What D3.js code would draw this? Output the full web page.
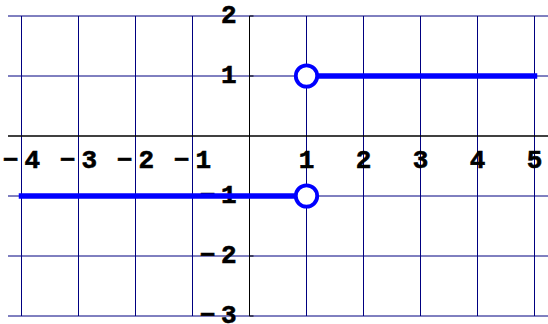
<!DOCTYPE html>
<html>
<head>
<meta charset="utf-8">
<script src="https://cdn.jsdelivr.net/npm/d3@7"></script>
<style>
  body { margin: 0; background: #fff; }
  text { font-family: "Liberation Mono", "Courier New", monospace; font-weight: bold; fill: #000; stroke: #000; stroke-width: 0.6px; }
</style>
</head>
<body>
<div id="container"></div>
<script>
const canvasWidth = 548;
const canvasHeight = 324;

// ticks
let xTicks = [-4, -3, -2, -1, 1, 2, 3, 4, 5];
let yTicks = [2, 1, -1, -2, -3];

// step function pieces
let segStart = [-4, 1];
let segEnd = [1, 5];
let segLevel = [-1, 1];

// open endpoints
let holeX = [1, 1];
let holeY = [1, -1];

let x = d3.scaleLinear().domain([-4, 5]).range([21.5, 534.5]);
let y = d3.scaleLinear().domain([2, -3]).range([16, 316]);

let viz = d3.select('#container')
  .append('svg')
  .attr('width', canvasWidth)
  .attr('height', canvasHeight);

//grid
viz.append('g').selectAll('line').data(yTicks).enter()
  .append('line')
  .attr('x1', 8).attr('x2', canvasWidth)
  .attr('y1', d => y(d)).attr('y2', d => y(d))
  .style('stroke', '#000080')
  .style('stroke-width', 1);

viz.append('g').selectAll('line').data(xTicks).enter()
  .append('line')
  .attr('x1', d => x(d)).attr('x2', d => x(d))
  .attr('y1', y(2)).attr('y2', y(-3))
  .style('stroke', '#000080')
  .style('stroke-width', 1);

//axes
viz.append('line')
  .attr('x1', 8).attr('x2', canvasWidth)
  .attr('y1', y(0)).attr('y2', y(0))
  .style('stroke', '#000')
  .style('stroke-width', 1.3);

viz.append('line')
  .attr('x1', x(0)).attr('x2', x(0))
  .attr('y1', y(2)).attr('y2', y(-3))
  .style('stroke', '#000')
  .style('stroke-width', 1);

viz.append('g').selectAll('line').data(yTicks).enter()
  .append('line')
  .attr('x1', x(0)).attr('x2', x(0) + 4)
  .attr('y1', d => y(d)).attr('y2', d => y(d))
  .style('stroke', '#000');

//x labels
let xLab = viz.append('g').selectAll('g').data(xTicks).enter()
  .append('g')
  .attr('transform', d => 'translate(' + x(d) + ',' + (y(0) + 25) + ')');

xLab.append('text')
  .attr('text-anchor', d => d < 0 ? 'start' : 'middle')
  .attr('x', d => d < 0 ? 3 : 0)
  .attr('dominant-baseline', 'central')
  .style('font-size', '26px')
  .text(d => Math.abs(d));

xLab.filter(d => d < 0).append('text')
  .attr('text-anchor', 'end')
  .attr('x', -3)
  .attr('dominant-baseline', 'central')
  .style('font-size', '26px')
  .text('\u2212');

//y labels
let yLab = viz.append('g').selectAll('g').data(yTicks).enter()
  .append('g')
  .attr('transform', d => 'translate(' + (x(0) - 13) + ',' + y(d) + ')');

yLab.append('text')
  .attr('text-anchor', 'end')
  .attr('dominant-baseline', 'central')
  .style('font-size', '26px')
  .text(d => Math.abs(d));

yLab.filter(d => d < 0).append('text')
  .attr('text-anchor', 'end')
  .attr('x', -21)
  .attr('dominant-baseline', 'central')
  .style('font-size', '26px')
  .text('\u2212');

//function
viz.append('g').selectAll('line').data(segLevel).enter()
  .append('line')
  .attr('x1', (d, i) => x(segStart[i]))
  .attr('x2', (d, i) => x(segEnd[i]))
  .attr('y1', d => y(d)).attr('y2', d => y(d))
  .style('stroke', '#0000ff')
  .style('stroke-width', 5.5)
  .style('stroke-linecap', 'square');

viz.append('g').selectAll('circle').data(holeX).enter()
  .append('circle')
  .attr('cx', d => x(d))
  .attr('cy', (d, i) => y(holeY[i]))
  .attr('r', 10.7)
  .style('fill', '#fff')
  .style('stroke', '#0000ff')
  .style('stroke-width', 3.8);
</script>
</body>
</html>
